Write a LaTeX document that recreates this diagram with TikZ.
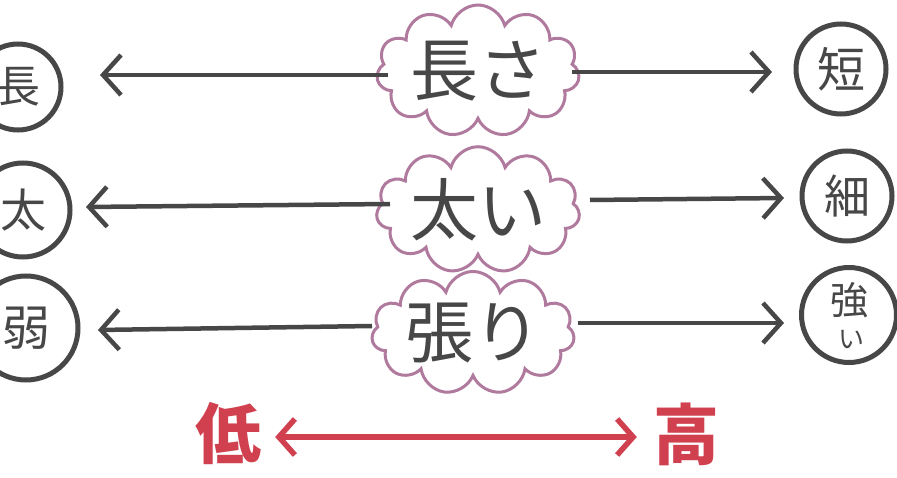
\documentclass[tikz,border=0pt]{standalone}
\usepackage{fontspec}
\newfontfamily\jp{Noto Sans CJK JP}
\usetikzlibrary{shapes.symbols,arrows.meta}
\definecolor{ink}{HTML}{474747}
\definecolor{cloudc}{HTML}{B07A9E}
\definecolor{redink}{HTML}{D0404E}
\tikzset{
  cloudbox/.style={cloud, cloud puffs=11, cloud ignores aspect, draw=cloudc, line width=3pt, fill=white, inner sep=0pt, text=ink, font=\jp\fontsize{68}{70}\selectfont},
  endcircle/.style={circle, draw=ink, line width=5pt, text=ink, inner sep=0pt},
  grayarrow/.style={draw=ink, line width=4.5pt, -{Straight Barb[length=18pt,width=40pt,line width=4.5pt]}},
  redarrow/.style={draw=redink, line width=5.5pt, {Straight Barb[length=16pt,width=36pt,line width=5.5pt]}-{Straight Barb[length=16pt,width=36pt,line width=5.5pt]}},
  redlabel/.style={text=redink, font=\jp\bfseries\fontsize{66}{68}\selectfont, inner sep=0pt}
}
\begin{document}
\begin{tikzpicture}[x=1pt,y=-1pt]
\useasboundingbox (0,0) rectangle (897,478);
\clip (0,0) rectangle (897,478);
\fill[white] (0,0) rectangle (897,478);
% clouds
\node[cloudbox, minimum width=180pt, minimum height=132pt] (c1) at (478,71) {長さ};
\node[cloudbox, minimum width=192pt, minimum height=116pt] (c2) at (478,210) {太い};
\node[cloudbox, minimum width=202pt, minimum height=115pt] (c3) at (473,333) {張り};
% left circles (cut by the edge, as in the reference)
\node[endcircle, minimum size=86pt, font=\jp\fontsize{44}{46}\selectfont] (l1) at (18,87) {長};
\node[endcircle, minimum size=94pt, font=\jp\fontsize{46}{48}\selectfont] (l2) at (23,210) {太};
\node[endcircle, minimum size=104pt, font=\jp\fontsize{48}{50}\selectfont] (l3) at (26,328) {弱};
% right circles
\node[endcircle, minimum size=90pt, font=\jp\fontsize{48}{50}\selectfont] (r1) at (841,69) {短};
\node[endcircle, minimum size=90pt, font=\jp\fontsize{46}{48}\selectfont] (r2) at (847,196) {細};
\node[endcircle, minimum size=95pt] (r3) at (849,315) {};
\node[text=ink, inner sep=0pt, font=\jp\fontsize{38}{38}\selectfont] (r3a) at (849,300) {強};
\node[text=ink, inner sep=0pt, font=\jp\fontsize{26}{26}\selectfont] (r3b) at (851,340) {い};
% arrow end points
\coordinate (a1l) at (388,75); \coordinate (a1r) at (572,72);
\coordinate (a2l) at (390,204); \coordinate (a2r) at (590,200);
\coordinate (a3l) at (372,326); \coordinate (a3r) at (578,323);
\coordinate (t1l) at (100,75); \coordinate (t1r) at (772,72);
\coordinate (t2l) at (86,207); \coordinate (t2r) at (784,198);
\coordinate (t3l) at (98,330); \coordinate (t3r) at (784,323);
\draw[grayarrow] (a1l) -- (t1l);
\draw[grayarrow] (a1r) -- (t1r);
\draw[grayarrow] (a2l) -- (t2l);
\draw[grayarrow] (a2r) -- (t2r);
\draw[grayarrow] (a3l) -- (t3l);
\draw[grayarrow] (a3r) -- (t3r);
% red scale
\node[redlabel] (low) at (228,434) {低};
\node[redlabel] (high) at (686,434) {高};
\draw[redarrow] ([xshift=14pt,yshift=-3pt]low.east) -- ([xshift=-16pt,yshift=-3pt]high.west);
\end{tikzpicture}
\end{document}
